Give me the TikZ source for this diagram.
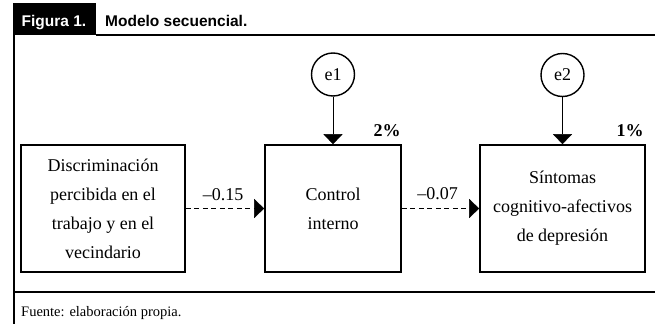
\documentclass[tikz,border=0pt]{standalone}
\usepackage{fontspec}
\setmainfont{Liberation Serif}
\setsansfont{Liberation Sans}
\usetikzlibrary{arrows.meta,positioning}

\begin{document}
\begin{tikzpicture}
[x=1pt,y=-1pt,
varbox/.style={rectangle,draw,line width=1.6pt,minimum width=#1,minimum height=127pt,align=center,font=\fontsize{18}{29}\selectfont},
err/.style={circle,draw,line width=1.4pt,minimum size=43pt,inner sep=0pt,font=\fontsize{18}{20}\selectfont},
effect/.style={dash pattern=on 5pt off 3.5pt,-{Triangle[length=10pt,width=19pt]}},
res/.style={-{Triangle[length=10pt,width=19pt]}},
coef/.style={font=\fontsize{18}{20}\selectfont},
pct/.style={font=\bfseries\fontsize{18}{20}\selectfont},
head/.style={anchor=base west,inner sep=0pt,font=\sffamily\bfseries\fontsize{15.5}{18}\selectfont}];
\useasboundingbox (0,0) rectangle (659,324);
\fill (13,3) rectangle (96,35);
\draw[line width=2.5pt] (96,35) -- (655,35);
\draw[line width=2.2pt] (14,35) -- (14,324);
\draw[line width=1.8pt] (13,292) -- (655,292);
\node[head,text=white] (fig) at (21.5,27) {Figura 1.};
\node[head] (title) at (105,27) {Modelo secuencial.};

\node[varbox=164pt] (discr) at (103,208.5) {Discriminación\\percibida en el\\trabajo y en el\\vecindario};
\node[varbox=136pt] (control) at (333,208.5) {Control\\interno};
\node[varbox=165pt] (sintomas) at (562.5,208.5) {Síntomas\\cognitivo-afectivos\\de depresión};
\node[err] (e1) at (333,74.5) {e1};
\node[err] (e2) at (562.5,75) {e2};
\node[pct] (r1) at (387,131) {2\%};
\node[pct] (r2) at (630,131) {1\%};

\draw[res] (e1) -- (control);
\draw[res] (e2) -- (sintomas);
\draw[effect] (discr) -- (control);
\draw[effect] (control) -- (sintomas);
\node[coef] (c1) at (223,195) {\textendash0.15};
\node[coef] (c2) at (437.5,194) {\textendash0.07};

\node[anchor=base west,inner sep=0pt,font=\fontsize{14.5}{17}\selectfont] (source) at (21,316) {Fuente: elaboración propia.};
\end{tikzpicture}
\end{document}
